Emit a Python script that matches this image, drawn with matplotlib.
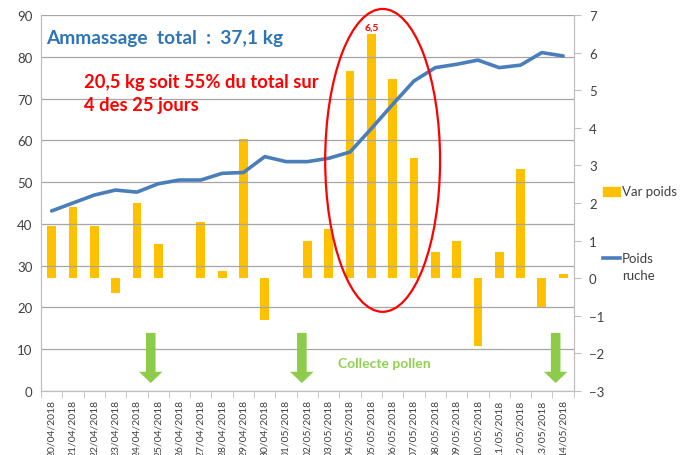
import matplotlib.pyplot as plt
from matplotlib.patches import Ellipse, Rectangle, FancyArrow
from matplotlib.lines import Line2D

plt.rcParams['font.family'] = ['Lato', 'DejaVu Sans']

dates = ['20/04/2018', '21/04/2018', '22/04/2018', '23/04/2018', '24/04/2018',
         '25/04/2018', '26/04/2018', '27/04/2018', '28/04/2018', '29/04/2018',
         '30/04/2018', '01/05/2018', '02/05/2018', '03/05/2018', '04/05/2018',
         '05/05/2018', '06/05/2018', '07/05/2018', '08/05/2018', '09/05/2018',
         '10/05/2018', '11/05/2018', '12/05/2018', '13/05/2018', '14/05/2018']
poids_ruche = [43.1, 45.0, 46.9, 48.1, 47.6, 49.6, 50.5, 50.5, 52.1, 52.3,
               56.1, 54.9, 54.9, 55.7, 57.2, 62.8, 68.6, 74.2, 77.4, 78.2,
               79.2, 77.4, 78.0, 81.0, 80.2]
var_poids = [1.4, 1.9, 1.4, -0.4, 2.0, 0.9, 0.0, 1.5, 0.2, 3.7,
             -1.1, 0.0, 1.0, 1.3, 5.5, 6.5, 5.3, 3.2, 0.7, 1.0,
             -1.8, 0.7, 2.9, -0.8, 0.1]
pollen_days = [4.65, 11.74, 23.65]

x = list(range(len(dates)))

fig = plt.figure(figsize=(6.88, 4.56), dpi=100)
ax = fig.add_axes([0.0596, 0.1404, 0.7744, 0.8245])
ax2 = ax.twinx()
ax.set_zorder(ax2.get_zorder() + 1)
ax.patch.set_visible(False)

ax2.bar(x, var_poids, width=0.41, color='#FFC000')
ax.plot(x, poids_ruche, color='#4A7EBB', lw=2.6, solid_capstyle='round')

ax.set_ylim(0, 90)
ax.set_yticks(range(0, 91, 10))
ax2.set_ylim(-3, 7)
ax2.set_yticks(range(-3, 8))
ax.set_xlim(-0.5, len(dates) - 0.5)

ax.yaxis.grid(True, color='#A6A6A6', lw=0.9)
ax.set_axisbelow(True)
ax2.set_axisbelow(True)

for a in (ax, ax2):
    for s in a.spines.values():
        s.set_color('#BFBFBF')
    a.spines['top'].set_visible(False)

ax.set_xticks(x)
ax.set_xticklabels(dates, rotation=90, fontsize=7.5, color='#404040')
ax.set_xticks([i - 0.5 for i in range(len(dates) + 1)], minor=True)
ax.tick_params(axis='x', which='major', length=0, pad=6)
ax.tick_params(axis='x', which='minor', length=5, color='#BFBFBF')
ax.tick_params(axis='y', length=0, labelsize=9.5, colors='#404040', pad=6)
ax2.tick_params(axis='y', length=5, color='#BFBFBF', labelsize=9.5,
                labelcolor='#404040', pad=6)

# annotations
ax.text(-0.25, 84.5, 'Ammassage  total  :  37,1 kg', color='#2E75B6',
        fontsize=13.8, fontweight='bold', va='center')
ax.text(1.5, 74, '20,5 kg soit 55% du total sur', color='red',
        fontsize=13.2, fontweight='bold', va='center')
ax.text(1.5, 68.5, '4 des 25 jours', color='red', fontsize=13.2,
        fontweight='bold', va='center')
ax2.text(15, 6.55, '6,5', color='red', fontsize=7.5, fontweight='bold',
         ha='center', va='bottom')

ax.add_patch(Ellipse((15.53, 55.2), 5.39, 72.5, fill=False,
                     edgecolor='red', lw=1.6, zorder=5, clip_on=False))

for d in pollen_days:
    ax.add_patch(FancyArrow(d, 13.9, 0, -12.0, width=0.45, head_width=1.1,
                            head_length=2.7, length_includes_head=True,
                            color='#8DCB4B', lw=0, zorder=5))
ax.text(15.6, 6.7, 'Collecte pollen', color='#92D050', fontsize=10,
        fontweight='bold', ha='center', va='center')

# legend
fig.patches.append(Rectangle((603 / 688, 1 - 197 / 456), 17 / 688, 9 / 456,
                             transform=fig.transFigure, color='#FFC000'))
fig.text(622 / 688, 1 - 192 / 456, 'Var poids', fontsize=9.5,
         color='#404040', va='center')
fig.lines.append(Line2D([603 / 688, 620 / 688], [1 - 259 / 456, 1 - 259 / 456],
                        transform=fig.transFigure, color='#4A7EBB', lw=2.6))
fig.text(622 / 688, 1 - 259 / 456, 'Poids', fontsize=9.5, color='#404040',
         va='center')
fig.text(622 / 688, 1 - 276 / 456, 'ruche', fontsize=9.5, color='#404040',
         va='center')

fig.savefig('out.png', dpi=100)
